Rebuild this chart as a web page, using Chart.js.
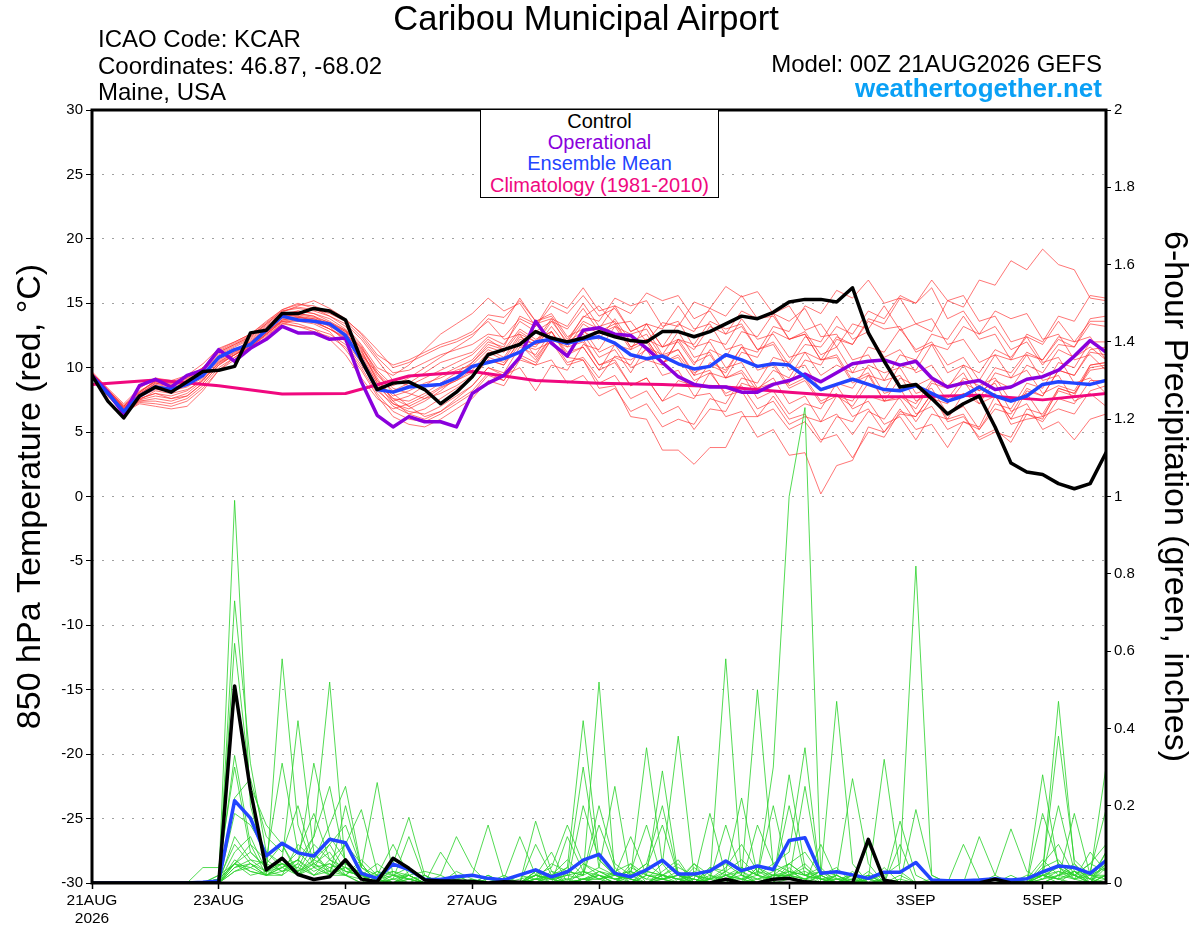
<!DOCTYPE html>
<html>
<head>
<meta charset="utf-8">
<script src="https://cdn.jsdelivr.net/npm/chart.js@4.4.1/dist/chart.umd.min.js"></script>
<style>
    body { margin: 0; background: #fff; }
    #wrap { position: relative; width: 1200px; height: 927px; font-family: "Liberation Sans", Arial, sans-serif; color: #000; }
    #wrap canvas { position: absolute; left: 0; top: 0; }
    .txt { position: absolute; white-space: nowrap; line-height: 1; }
    #legend { position: absolute; left: 480px; top: 109px; width: 237px; height: 87px; border: 1.5px solid #000; background: #fff; }
    #legend div { position: absolute; left: 0; width: 100%; text-align: center; font-size: 20px; line-height: 1; }
</style>
</head>
<body>
<div id="wrap">
    <canvas id="chart" width="1200" height="927"></canvas>
    <div class="txt" style="left:0;width:1172px;text-align:center;top:1px;font-size:34.5px;">Caribou Municipal Airport</div>
    <div class="txt" style="left:98px;top:27px;font-size:24px;">ICAO Code: KCAR</div>
    <div class="txt" style="left:98px;top:54px;font-size:24px;">Coordinates: 46.87, -68.02</div>
    <div class="txt" style="left:98px;top:80px;font-size:24px;">Maine, USA</div>
    <div class="txt" style="right:98px;top:52px;font-size:24px;">Model: 00Z 21AUG2026 GEFS</div>
    <div class="txt" style="right:98px;top:75px;font-size:26px;font-weight:bold;color:#0aa0f5;">weathertogether.net</div>
    <div id="legend">
        <div style="top:1px;color:#000;">Control</div>
        <div style="top:22px;color:#8a00dc;">Operational</div>
        <div style="top:43px;color:#2244ff;">Ensemble Mean</div>
        <div style="top:65px;color:#f0087f;">Climatology (1981-2010)</div>
    </div>
</div>
<script>
// forecast hours at 6-hour steps, 0..384 (index * 6)
const tickHours = [0, 48, 96, 144, 192, 264, 312, 360];
const tickLabels = ['21AUG', '23AUG', '25AUG', '27AUG', '29AUG', '1SEP', '3SEP', '5SEP'];
const yearLabel = '2026';

// 850 hPa temperature (C), 6-hourly
const controlTemp = [
    9.4, 7.4, 6.1, 7.8,  8.5, 8.1, 8.9, 9.7,  9.8, 10.1, 12.7, 12.9,  14.2, 14.2, 14.6, 14.4,
    13.7, 10.6, 8.3, 8.8,  8.9, 8.3, 7.2, 8.1,  9.3, 11.0, 11.4, 11.8,  12.8, 12.3, 12.0, 12.3,
    12.8, 12.4, 12.1, 12.0,  12.8, 12.8, 12.4, 12.8,  13.4, 14.0, 13.8, 14.3,  15.1, 15.3, 15.3, 15.1,
    16.2, 12.7, 10.5, 8.5,  8.7, 7.6, 6.4, 7.2,  7.8, 5.4, 2.6, 1.9,  1.7, 1.0, 0.6, 1.0,  3.4
];
const operationalTemp = [
    9.4, 8.1, 6.4, 8.6,  9.1, 8.5, 9.4, 9.8,  11.4, 10.5, 11.5, 12.2,  13.2, 12.7, 12.7, 12.2,
    12.3, 8.9, 6.3, 5.4,  6.2, 5.8, 5.8, 5.4,  8.0, 8.8, 9.4, 10.8,  13.6, 11.9, 10.9, 12.9,
    13.1, 12.6, 12.5, 11.5,  10.4, 9.3, 8.7, 8.5,  8.5, 8.1, 8.1, 8.7,  9.0, 9.5, 8.9, 9.6,
    10.3, 10.5, 10.6, 10.2,  10.5, 9.2, 8.5, 8.8,  9.0, 8.3, 8.5, 9.1,  9.3, 9.8, 10.9, 12.1,  11.2
];
const meanTemp = [
    9.3, 8.0, 6.6, 7.8,  8.5, 8.3, 8.7, 9.4,  10.8, 11.4, 11.8, 12.9,  14.0, 13.7, 13.6, 13.4,
    12.5, 10.6, 8.3, 8.1,  8.5, 8.6, 8.7, 9.2,  10.1, 10.4, 10.7, 11.2,  12.0, 12.2, 11.9, 12.2,
    12.4, 11.9, 11.0, 10.7,  10.9, 10.3, 9.9, 10.1,  11.0, 10.6, 10.1, 10.3,  10.2, 9.3, 8.3, 8.7,
    9.1, 8.7, 8.3, 8.2,  8.6, 8.0, 7.4, 7.8,  8.5, 7.8, 7.4, 7.8,  8.7, 8.9, 8.8, 8.7,  9.0
];
// climatology is daily (00Z each day)
const climoTemp = [8.7, 9.05, 8.6, 7.95, 8.0, 9.35, 9.7, 9.0, 8.8, 8.7, 8.5, 8.1, 7.75, 7.75, 7.85, 7.5, 8.0];

const memberTemp = [
    [9.6,8.3,7.1,8.2, 8.9,8.8,9.2,9.9, 11.2,11.8,12.4,13.3, 14.3,14.8,15.2,14.6, 13.8,12.6,11.0,10.2, 10.6,11.2,11.8,12.2,
     12.8,14.1,13.9,15.2, 13.6,14.0,12.2,13.9, 14.8,13.4,13.6,12.0, 13.5,13.2,15.1,14.6, 16.3,15.5,15.9,14.2, 14.8,12.9,13.4,11.6, 13.4,13.0,14.8,12.9, 13.4,12.8,15.2,14.7, 16.8,16.4,18.3,17.6, 19.2,18.0,17.6,15.4, 15.2],
    [9.4,7.9,6.6,7.5, 8.2,8.0,8.3,9.0, 10.4,11.0,11.6,12.6, 13.5,13.2,13.0,12.2, 11.0,9.2,7.6,6.8, 7.2,7.8,8.5,9.0,
     9.8,11.2,10.6,12.4, 11.8,12.2,10.4,10.8, 9.2,10.9,10.6,11.4, 9.4,9.8,7.8,8.0, 6.2,6.6,4.6,5.2, 3.2,3.4,0.2,2.4, 2.8,5.4,5.0,6.8, 5.2,5.6,3.8,5.8, 5.4,7.8,6.0,6.4, 5.8,7.6,7.2,9.0, 9.0],
    [9.5,8.1,6.9,7.8, 8.4,8.1,8.7,9.5, 10.9,11.4,12.1,13.0, 14.0,14.2,14.0,13.2, 12.0,10.4,8.2,7.2, 6.8,7.4,8.2,9.2,
     10.4,11.6,11.2,12.8, 12.0,12.8,10.8,10.6, 8.4,8.6,6.2,6.0, 3.6,3.6,2.5,3.8, 3.8,6.2,6.2,7.8, 6.0,6.4,4.4,4.8, 3.0,5.0,4.6,6.6, 6.2,8.0,6.0,6.4, 4.4,5.0,4.6,6.8, 6.4,8.4,8.0,10.0, 10.2],
    [9.7,8.4,7.2,8.4, 9.2,9.0,9.4,10.3, 11.5,12.0,12.6,13.6, 14.5,15.0,14.6,14.0, 13.2,11.8,10.0,9.4, 10.2,11.4,12.6,13.4,
     14.2,15.4,14.4,15.0, 13.2,15.2,14.6,16.2, 14.4,14.8,12.8,13.4, 11.6,12.0,10.2,12.2, 11.8,13.8,12.2,12.6, 10.8,11.2,9.4,10.2, 9.6,11.6,11.2,13.0, 11.4,12.0,10.2,10.8, 9.0,11.0,10.6,12.6, 12.0,14.0,13.6,15.6, 15.4],
    [9.3,7.8,6.5,7.2, 7.0,6.8,7.0,8.2, 9.8,10.6,11.4,12.4, 13.4,13.8,13.6,13.0, 12.4,11.0,9.6,8.0, 7.0,6.2,6.6,7.4,
     8.2,9.6,9.0,11.0, 10.4,12.2,11.8,12.6, 10.8,11.4,9.6,11.6, 11.0,12.8,10.8,11.2, 9.2,9.6,7.6,8.2, 6.4,7.2,6.8,8.8, 8.4,10.2,9.6,10.0, 8.0,8.4,6.4,7.0, 5.2,6.8,6.4,8.4, 7.8,9.8,9.4,11.2, 11.0],
    [9.5,8.0,6.8,7.9, 8.6,8.4,8.8,9.4, 10.6,11.2,11.8,12.8, 13.8,14.0,13.8,13.4, 12.8,11.6,9.4,8.2, 8.8,9.6,10.4,10.8,
     11.2,12.4,11.8,13.6, 12.8,13.6,12.0,12.8, 12.2,13.8,12.0,12.6, 10.8,11.4,9.6,10.2, 9.6,11.6,11.2,13.2, 12.8,14.8,14.2,16.0, 15.4,16.8,15.0,15.4, 13.4,13.8,11.8,12.2, 10.4,11.0,9.2,9.8, 8.0,8.6,8.2,10.2, 10.4],
    [9.4,8.0,6.7,7.6, 8.0,7.6,7.8,8.8, 10.2,11.0,11.8,12.8, 13.6,13.4,13.0,12.6, 11.8,10.2,8.4,7.0, 6.4,6.0,6.6,7.6,
     8.6,10.0,9.4,10.0, 8.2,10.2,9.8,11.8, 11.4,13.2,12.6,13.0, 11.0,11.4,9.4,9.8, 7.8,8.2,6.2,6.8, 5.2,5.8,4.2,6.2, 5.8,7.8,7.4,9.2, 8.6,9.2,7.4,8.0, 7.2,9.0,8.4,10.2, 9.6,11.4,10.8,11.6, 10.6],
    [9.6,8.2,6.9,7.9, 8.8,8.6,9.0,9.6, 10.8,11.4,12.0,13.0, 14.0,14.4,14.2,13.8, 13.0,11.4,9.0,7.6, 7.4,8.0,8.8,9.6,
     10.4,11.8,11.4,13.0, 12.2,12.8,11.0,11.6, 9.8,11.8,11.4,13.4, 13.0,14.8,13.0,13.4, 11.4,11.8,9.8,10.2, 8.4,9.0,7.2,7.8, 7.0,8.8,8.2,10.2, 9.8,11.8,11.4,13.2, 12.6,14.4,13.8,14.2, 12.2,12.6,10.6,11.0, 9.8],
    [9.5,8.1,6.8,8.0, 8.7,8.5,8.9,9.7, 11.0,11.6,12.2,13.1, 14.1,14.0,13.6,13.0, 12.2,10.6,8.6,7.4, 7.8,8.6,9.4,10.0,
     10.6,12.0,11.6,14.0, 13.4,13.8,11.8,12.2, 10.2,10.6,8.6,9.2, 7.4,8.0,7.6,9.6, 9.2,11.2,10.8,12.8, 12.2,12.8,11.0,11.6, 9.6,10.0,8.0,8.4, 6.4,7.0,5.2,5.8, 5.2,7.2,6.8,8.8, 8.4,10.4,10.0,12.0, 12.0],
    [9.4,7.9,6.6,7.4, 7.4,7.2,7.6,8.6, 10.0,10.8,11.6,12.6, 13.6,13.6,13.4,12.8, 11.4,9.8,7.8,6.2, 5.6,5.4,6.0,6.8,
     7.6,9.0,8.6,10.6, 10.2,12.2,11.6,13.4, 12.6,13.2,11.4,12.0, 10.2,12.2,11.8,13.6, 13.0,13.4,11.4,11.8, 9.8,10.2,8.2,8.6, 6.8,7.4,5.6,6.2, 4.4,6.4,6.0,8.0, 7.6,9.6,9.2,11.0, 10.6,12.2,11.6,13.4, 13.2],
    [9.6,8.3,7.0,8.1, 9.0,8.9,9.3,10.0, 11.3,11.9,12.5,13.4, 14.4,14.6,14.4,14.0, 13.4,12.2,10.6,9.0, 8.6,9.2,9.8,10.4,
     11.0,12.2,11.4,11.8, 10.6,12.4,12.0,14.0, 13.6,15.4,14.8,15.2, 13.2,13.6,11.6,12.0, 10.0,10.4,8.4,8.8, 8.8,10.6,10.2,12.2, 11.8,13.8,13.4,15.4, 15.0,16.8,15.2,15.6, 13.6,14.0,12.0,12.4, 10.4,10.8,8.8,9.2, 8.0],
    [9.5,8.0,6.7,7.7, 8.3,8.2,8.5,9.2, 10.5,11.1,11.8,12.7, 13.7,13.9,13.7,13.2, 12.6,11.2,9.0,7.8, 8.2,8.8,9.2,9.8,
     10.2,11.4,10.8,12.6, 12.0,13.8,13.2,15.0, 13.2,13.6,11.6,12.2, 10.4,10.8,9.0,9.6, 8.0,8.6,6.8,7.4, 5.6,6.2,5.8,7.8, 7.4,9.4,9.0,11.0, 10.6,12.6,12.2,14.0, 12.2,12.6,10.6,11.0, 9.0,9.4,7.4,8.0, 7.0],
    [9.4,7.8,6.5,7.3, 7.2,7.0,7.4,8.4, 9.8,10.8,11.6,12.5, 13.4,13.2,12.8,12.4, 11.6,10.0,8.0,6.6, 6.0,5.8,6.4,7.2,
     8.0,9.4,9.0,10.8, 10.2,10.6,8.8,9.4, 7.8,8.4,6.6,7.2, 5.4,6.0,5.6,7.6, 7.2,9.2,8.8,10.8, 10.4,12.4,12.0,14.0, 12.2,12.8,10.8,11.4, 9.6,10.2,8.4,9.0, 7.2,7.8,6.0,8.2, 7.8,9.8,9.4,11.4, 11.6],
    [9.5,8.2,6.9,8.0, 8.8,8.6,9.0,9.8, 11.1,11.7,12.3,13.2, 14.2,14.4,14.2,13.6, 12.9,11.5,9.8,8.6, 9.2,10.0,10.8,11.6,
     12.4,13.8,13.4,15.4, 13.6,14.2,12.4,13.0, 11.2,11.8,10.0,10.6, 10.2,12.2,11.4,13.2, 12.6,14.4,13.8,14.0, 12.2,12.6,10.6,10.8, 8.8,9.4,7.4,7.6, 5.8,7.6,7.2,8.8, 8.2,10.0,9.6,11.2, 10.6,12.4,12.0,13.6, 13.6],
    [9.3,7.8,6.5,7.4, 7.6,7.4,7.8,8.8, 10.2,11.0,11.7,12.7, 13.7,13.9,13.8,13.3, 12.7,11.3,9.2,7.4, 6.4,6.8,7.6,8.4,
     9.2,10.6,10.2,12.2, 11.8,13.6,13.0,14.6, 12.8,13.4,11.6,12.2, 10.4,11.0,9.4,11.4, 10.8,12.8,12.4,14.2, 13.6,14.6,12.4,12.6, 10.6,11.0,9.0,9.4, 7.4,8.0,5.8,6.2, 4.6,5.2,4.2,6.4, 6.0,8.4,8.0,9.8, 10.0],
    [9.6,8.3,7.0,8.1, 8.9,8.7,9.1,9.9, 11.2,11.8,12.4,13.4, 14.4,14.7,14.5,14.2, 13.6,12.4,10.8,9.6, 9.8,10.4,11.0,11.4,
     11.8,12.6,12.4,13.8, 13.2,14.8,14.2,15.6, 14.0,14.6,12.8,13.4, 11.6,12.2,10.4,11.0, 9.2,9.8,8.2,9.8, 9.2,11.2,10.6,12.4, 11.8,13.6,13.0,13.2, 11.2,11.8,9.6,10.2, 8.2,8.8,6.6,7.2, 5.2,5.8,4.4,6.0, 6.4],
    [9.4,7.9,6.7,7.5, 7.8,7.6,8.0,9.0, 10.4,11.2,11.9,12.9, 13.9,14.1,13.9,13.5, 12.8,11.0,8.8,7.6, 7.0,7.6,8.4,9.0,
     9.6,10.8,10.4,12.0, 11.6,13.2,11.6,12.0, 10.2,10.8,10.2,12.2, 11.6,13.4,12.8,14.6, 14.0,15.6,13.8,14.2, 12.2,12.6,10.6,11.0, 9.0,9.6,7.4,7.8, 6.8,8.8,8.4,10.2, 9.6,11.4,10.8,12.4, 11.8,13.6,12.0,12.4, 10.6],
    [9.5,8.1,6.8,7.8, 8.5,8.3,8.6,9.4, 10.7,11.3,12.0,12.9, 13.9,14.2,14.0,13.5, 12.9,11.7,9.6,8.4, 8.0,7.6,8.0,8.6,
     9.4,10.6,10.2,11.8, 11.4,12.0,10.2,10.6, 8.8,9.4,7.6,8.2, 6.4,7.0,5.2,6.8, 6.6,8.8,8.4,9.2, 7.2,7.8,5.8,6.4, 4.8,6.6,6.0,7.8, 7.2,9.0,8.6,9.6, 7.6,8.0,5.6,6.0, 6.2,8.2,7.8,10.2, 10.4],
    [9.6,8.2,7.0,8.1, 9.0,8.8,9.2,10.0, 11.4,12.0,12.6,13.5, 14.5,14.9,14.8,14.3, 13.7,12.7,11.4,10.0, 10.4,11.0,11.6,12.0,
     12.6,13.6,12.2,12.6, 10.8,12.4,12.0,13.6, 13.0,14.8,14.2,15.8, 15.2,15.6,13.8,14.4, 12.6,13.2,11.4,12.0, 10.2,11.8,11.6,13.2, 12.6,14.4,13.8,15.6, 15.0,16.2,13.8,14.4, 12.6,13.2,11.4,12.0, 10.2,11.8,11.6,13.8, 14.0],
    [9.4,7.9,6.6,7.6, 8.0,7.8,8.2,9.1, 10.3,11.0,11.7,12.6, 13.6,13.8,13.5,13.0, 12.3,10.8,8.8,7.2, 6.6,6.4,7.0,7.8,
     8.6,10.0,9.6,11.6, 11.0,12.8,11.2,11.6, 9.8,10.4,8.6,9.2, 7.4,9.0,8.6,10.4, 9.8,11.6,10.0,10.4, 8.6,9.2,7.4,8.0, 6.2,6.8,5.0,6.4, 6.2,8.0,7.6,9.2, 8.6,9.2,7.4,8.0, 6.2,6.8,6.4,8.2, 8.6]
];

// 6-hour precipitation (inches)
const controlPrecip = [
    0, 0, 0, 0,  0, 0, 0, 0,  0, 0.51, 0.24, 0.034,  0.064, 0.022, 0.009, 0.016,
    0.06, 0.01, 0.003, 0.064,  0.038, 0.008, 0.005, 0.005,  0.004, 0, 0.003, 0.002,  0, 0, 0, 0,
    0, 0, 0, 0,  0, 0, 0, 0,  0.01, 0, 0, 0.01,  0.012, 0.003, 0, 0,
    0, 0.113, 0.007, 0,  0, 0, 0, 0,  0, 0.01, 0, 0,  0, 0, 0, 0,  0
];
const meanPrecip = [
    0, 0, 0, 0,  0, 0, 0, 0.002,  0.005, 0.213, 0.168, 0.07,  0.103, 0.078, 0.07, 0.113,
    0.104, 0.025, 0.012, 0.049,  0.035, 0.009, 0.009, 0.016,  0.02, 0.012, 0.008, 0.021,  0.034, 0.016, 0.029, 0.059,
    0.074, 0.025, 0.016, 0.034,  0.059, 0.023, 0.023, 0.031,  0.057, 0.032, 0.044, 0.035,  0.11, 0.117, 0.025, 0.029,
    0.021, 0.012, 0.028, 0.028,  0.053, 0.008, 0.006, 0.006,  0.008, 0.011, 0.008, 0.011,  0.029, 0.044, 0.04, 0.025,  0.058
];
const memberPrecip = [
    [0,0,0,0, 0,0,0,0, 0.01,0.99,0.2,0.05, 0.03,0.06,0.02,0.04, 0.05,0.02,0,0.01, 0,0,0.01,0, 0,0,0,0.02, 0.01,0,0.03,0.02, 0.15,0.04,0,0.02, 0.01,0,0.03,0, 0,0.04,0.02,0.05, 0.08,0.35,0,0.02, 0,0.01,0,0, 0,0,0,0, 0,0,0.01,0, 0.03,0.47,0.05,0.01, 0.02],
    [0,0,0,0, 0,0,0,0, 0,0.73,0.31,0.08, 0.05,0.02,0.08,0.03, 0.02,0,0.01,0.03, 0.02,0,0,0, 0,0,0.01,0.12, 0.02,0.01,0,0.01, 0,0.03,0.05,0, 0.02,0.05,0,0.01, 0.15,0.02,0,0, 0.01,0,0.02,0.04, 0,0.03,0,0.16, 0.02,0,0,0, 0,0,0,0.01, 0.02,0,0.03,0.01, 0],
    [0,0,0,0, 0,0,0,0, 0.01,0.62,0.25,0.15, 0.1,0.03,0.05,0.02, 0.2,0.04,0.01,0, 0,0.02,0,0, 0,0.01,0,0, 0.03,0,0,0.05, 0.02,0,0.03,0.01, 0.05,0.38,0.02,0, 0.01,0,0.04,0.02, 0.02,0,0.1,0.01, 0,0.02,0,0, 0,0.01,0,0, 0,0,0,0, 0,0.02,0.01,0.08, 0.03],
    [0,0,0,0, 0,0,0,0, 0.02,0.33,0.1,0.06, 0.31,0.08,0.04,0.1, 0.03,0.02,0,0.01, 0.12,0.01,0,0.02, 0,0,0.02,0, 0.01,0.02,0.04,0, 0.03,0.01,0.02,0.35, 0.05,0,0.01,0, 0.02,0,0.01,0, 0.04,0,0.02,0, 0.01,0,0,0, 0,0,0,0.1, 0.01,0,0,0, 0.05,0.1,0.02,0, 0.06],
    [0,0,0,0, 0,0,0,0.04, 0.04,0.3,0.08,0.04, 0.05,0.03,0.1,0.06, 0.04,0.02,0,0, 0.02,0,0,0, 0.01,0,0,0, 0.16,0.03,0,0.01, 0.02,0,0.05,0.02, 0.01,0.02,0,0.04, 0.02,0.01,0,0, 0.28,0.04,0,0, 0.03,0,0.01,0, 0,0,0,0, 0,0,0.02,0, 0.02,0.04,0.01,0.03, 0.19],
    [0,0,0,0, 0,0,0,0, 0.01,0.22,0.27,0.12, 0.08,0.2,0.05,0.03, 0.1,0.05,0,0, 0.01,0,0.02,0, 0,0.02,0,0, 0.03,0.01,0.04,0.42, 0.06,0.02,0,0.03, 0.02,0,0.04,0.01, 0,0,0.15,0.05, 0.03,0.02,0,0.01, 0,0,0,0.02, 0,0,0,0, 0.12,0.02,0,0, 0.04,0.06,0.01,0, 0.04],
    [0,0,0,0, 0,0,0,0, 0,0.18,0.15,0.08, 0.04,0.06,0.12,0.25, 0.05,0.02,0.01,0, 0,0,0,0.03, 0.01,0,0,0, 0,0.02,0.06,0.02, 0.04,0.25,0.01,0, 0.03,0.06,0,0.02, 0.01,0.03,0,0.02, 0.05,0.08,0.02,0, 0.01,0,0,0.1, 0,0,0,0, 0,0,0,0.01, 0.06,0.02,0.03,0, 0.08],
    [0,0,0,0, 0,0,0,0, 0,0.12,0.06,0.05, 0.1,0.02,0.06,0.04, 0.02,0.05,0,0, 0,0,0.01,0, 0,0,0,0, 0.02,0,0.12,0.03, 0.01,0,0.02,0.05, 0.02,0.01,0,0.04, 0.03,0.22,0.02,0, 0.05,0.02,0.01,0.02, 0,0,0,0, 0,0,0,0, 0,0,0,0, 0.18,0.05,0.02,0, 0.02],
    [0,0,0,0, 0,0,0,0, 0.01,0.1,0.05,0.02, 0.58,0.15,0.04,0.05, 0.02,0,0.03,0, 0.01,0,0,0, 0,0,0,0, 0.01,0.02,0.01,0, 0.02,0.01,0,0.04, 0.15,0.02,0,0, 0.01,0.02,0,0.02, 0.02,0.01,0.03,0, 0,0.1,0.01,0, 0,0,0,0, 0,0,0,0, 0.01,0.03,0.02,0.05, 0.03],
    [0,0,0,0, 0,0,0,0, 0,0.08,0.12,0.03, 0.06,0.42,0.08,0.02, 0.04,0.01,0,0.02, 0,0,0,0, 0,0,0,0.01, 0.02,0.01,0,0.2, 0.06,0.02,0.01,0, 0.01,0,0.05,0.02, 0,0.04,0.02,0.3, 1.0,1.23,0.02,0, 0,0.01,0,0, 0,0,0,0, 0,0,0,0, 0.02,0.01,0,0, 0.01],
    [0,0,0,0, 0,0,0,0, 0.01,0.05,0.04,0.06, 0.03,0.05,0.31,0.12, 0.06,0.02,0.01,0, 0.02,0,0,0, 0,0,0.01,0, 0.1,0.02,0,0.03, 0.01,0.03,0,0.02, 0.29,0.02,0.01,0, 0.02,0,0.04,0.01, 0.03,0.01,0,0.02, 0,0,0.04,0, 0.19,0.02,0,0, 0,0,0,0, 0,0.02,0.04,0.01, 0.05],
    [0,0,0,0, 0,0,0,0, 0,0.05,0.1,0.02, 0.05,0.04,0.12,0.52, 0.04,0.03,0.01,0.05, 0.17,0.02,0,0, 0,0,0,0, 0.02,0.01,0.02,0.01, 0.03,0.02,0.01,0, 0.02,0.01,0.05,0, 0.02,0.01,0.03,0.02, 0.01,0.25,0.01,0, 0,0.02,0,0, 0,0,0,0, 0,0,0,0, 0.03,0.01,0.18,0.02, 0.04],
    [0,0,0,0, 0,0,0,0, 0,0.04,0.05,0.03, 0.02,0.1,0.06,0.15, 0.25,0.04,0.02,0, 0.03,0.01,0,0, 0,0.02,0,0, 0,0.03,0.02,0.3, 0.04,0.02,0.03,0.01, 0.01,0.02,0,0.03, 0.05,0.02,0.5,0.04, 0.02,0.05,0.01,0, 0.02,0,0,0, 0,0,0,0, 0,0,0,0.02, 0.02,0.2,0.03,0, 0.02],
    [0,0,0,0, 0,0,0,0, 0.02,0.05,0.03,0.02, 0.04,0.08,0.18,0.06, 0.1,0.19,0.03,0.01, 0.02,0,0,0, 0,0,0,0, 0.01,0,0.01,0.02, 0.2,0.05,0.02,0, 0.01,0.03,0,0.01, 0.04,0.1,0.03,0.01, 0.02,0.01,0.02,0.47, 0.05,0,0,0, 0,0,0,0, 0,0,0,0, 0.02,0.03,0.01,0.02, 0.3],
    [0,0,0,0, 0,0,0,0, 0.01,0.05,0.08,0.04, 0.05,0.03,0.06,0.1, 0.15,0.04,0.26,0.02, 0.01,0,0,0, 0,0,0,0, 0.02,0.01,0,0.01, 0.01,0.02,0.12,0.02, 0.02,0.01,0.02,0, 0.03,0.01,0.02,0.2, 0.02,0.04,0.01,0, 0.02,0,0,0, 0,0,0,0, 0,0.02,0.14,0.03, 0.01,0.02,0.05,0, 0.02],
    [0,0,0,0, 0,0,0,0, 0,0.03,0.04,0.02, 0.04,0.02,0.05,0.08, 0.02,0.06,0.02,0.1, 0.02,0,0,0.01, 0,0,0,0, 0.01,0.05,0.03,0.02, 0.52,0.02,0.01,0, 0.02,0.01,0,0.01, 0.03,0.06,0.02,0.01, 0.2,0.02,0.04,0, 0,0,0.01,0, 0,0,0,0, 0,0,0,0, 0.03,0.38,0.06,0.02, 0.01],
    [0,0,0,0, 0,0,0,0, 0,0.06,0.03,0.02, 0.02,0.05,0.02,0.03, 0.04,0.01,0.03,0.02, 0.01,0,0.08,0.02, 0,0,0,0, 0.02,0.08,0,0.01, 0.01,0.02,0.03,0.15, 0.01,0,0.02,0.01, 0.02,0.03,0.01,0.02, 0.02,0.01,0.03,0.02, 0.27,0.05,0,0.01, 0,0,0,0, 0,0,0,0.01, 0.02,0.01,0.02,0, 0.05],
    [0,0,0,0, 0,0,0,0, 0,0.04,0.06,0.03, 0.04,0.06,0.03,0.05, 0.03,0.02,0.05,0.02, 0.02,0.03,0.02,0.12, 0.04,0,0,0, 0.01,0.01,0.02,0.03, 0.02,0.01,0.02,0.05, 0.2,0.02,0.01,0, 0.01,0.01,0,0.02, 0.03,0.02,0.01,0.01, 0.02,0.01,0.32,0.03, 0,0,0,0, 0,0,0,0, 0.01,0.05,0.02,0.01, 0.08],
    [0,0,0,0, 0,0,0,0, 0,0.05,0.02,0.03, 0.05,0.02,0.04,0.02, 0.02,0.01,0.02,0.03, 0.01,0.02,0,0.01, 0.02,0.15,0.01,0, 0.03,0.02,0,0.01, 0.02,0,0.04,0.02, 0.01,0.02,0.01,0.18, 0.02,0.04,0.02,0.01, 0.02,0.03,0.01,0, 0,0.01,0.02,0.05, 0.82,0.02,0,0, 0,0,0,0, 0.02,0.01,0.03,0.02, 0.02],
    [0,0,0,0, 0,0,0,0, 0,0.03,0.05,0.02, 0.03,0.04,0.02,0.06, 0.03,0.02,0.01,0.02, 0.04,0.01,0,0, 0,0.01,0,0, 0.02,0.04,0.15,0.05, 0.03,0.01,0.02,0.03, 0.02,0.04,0.02,0.01, 0.58,0.02,0.01,0.03, 0.05,0.02,0.03,0.01, 0.01,0.02,0,0, 0,0,0,0, 0,0,0,0, 0.28,0.04,0.02,0.05, 0.1]
];

const FONT = '"Liberation Sans", Arial, sans-serif';

function toPoints(values, stepHours) {
    return values.map((v, i) => ({ x: i * stepHours, y: v }));
}

function lineSet(values, step, color, width, axis, order) {
    return {
        data: toPoints(values, step),
        borderColor: color,
        borderWidth: width,
        yAxisID: axis,
        order: order,
        pointRadius: 0,
        tension: 0,
        fill: false,
        borderJoinStyle: 'round',
        borderCapStyle: 'round',
    };
}

const datasets = [];
memberTemp.forEach(m => datasets.push(lineSet(m, 6, 'rgba(255, 45, 45, 0.65)', 1, 'y', 6)));
memberPrecip.forEach(m => datasets.push(lineSet(m, 6, 'rgba(40, 210, 40, 0.8)', 1, 'y2', 5)));
datasets.push(lineSet(climoTemp, 24, '#f0087f', 3, 'y', 4));
datasets.push(lineSet(operationalTemp, 6, '#8a00dc', 3.5, 'y', 3));
datasets.push(lineSet(meanTemp, 6, '#2244ff', 3.5, 'y', 2));
datasets.push(lineSet(meanPrecip, 6, '#2244ff', 3.5, 'y2', 2));
datasets.push(lineSet(controlTemp, 6, '#000000', 3.5, 'y', 1));
datasets.push(lineSet(controlPrecip, 6, '#000000', 3.5, 'y2', 1));

// heavy frame round the plot area
const framePlugin = {
    id: 'frame',
    afterDraw(chart) {
        const { ctx, chartArea: a } = chart;
        ctx.save();
        ctx.strokeStyle = '#000';
        ctx.lineWidth = 3;
        ctx.strokeRect(a.left, a.top, a.right - a.left, a.bottom - a.top);
        ctx.restore();
    }
};

const tickFont = { family: FONT, size: 15 };

new Chart(document.getElementById('chart').getContext('2d'), {
    type: 'line',
    data: { datasets: datasets },
    plugins: [framePlugin],
    options: {
        responsive: false,
        animation: false,
        devicePixelRatio: 1,
        layout: { padding: { top: 110, left: 0, right: 0, bottom: 0 } },
        plugins: { legend: { display: false }, tooltip: { enabled: false } },
        scales: {
            x: {
                type: 'linear',
                min: 0,
                max: 384,
                afterBuildTicks: s => { s.ticks = tickHours.map(v => ({ value: v })); },
                afterFit: s => { s.height = 44; },
                ticks: {
                    autoSkip: false,
                    maxRotation: 0,
                    font: { family: FONT, size: 15.5 },
                    color: '#000',
                    padding: 2,
                    callback: v => {
                        const k = tickHours.indexOf(v);
                        return k === 0 ? [tickLabels[0], yearLabel] : tickLabels[k];
                    },
                },
                grid: { drawOnChartArea: false, tickLength: 6, tickColor: '#000', tickWidth: 1.5 },
                border: { display: false },
            },
            y: {
                position: 'left',
                min: -30,
                max: 30,
                afterFit: s => { s.width = 92; },
                ticks: { stepSize: 5, font: tickFont, color: '#000', padding: 3 },
                grid: { color: '#a0a0a0', lineWidth: 1, tickLength: 6, tickColor: '#000', tickBorderDash: [] },
                border: { display: false, dash: [2, 8] },
                title: {
                    display: true,
                    text: '850 hPa Temperature (red, °C)',
                    font: { family: FONT, size: 34 },
                    color: '#000',
                    padding: { top: 10, bottom: 0 },
                },
            },
            y2: {
                position: 'right',
                min: 0,
                max: 2,
                afterFit: s => { s.width = 94; },
                ticks: {
                    stepSize: 0.2,
                    font: tickFont,
                    color: '#000',
                    padding: 3,
                    callback: v => String(Math.round(v * 10) / 10),
                },
                grid: { drawOnChartArea: false, tickLength: 5, tickColor: '#000' },
                border: { display: false },
                title: {
                    display: true,
                    text: '6-hour Precipitation (green, inches)',
                    font: { family: FONT, size: 34 },
                    color: '#000',
                    padding: { top: 5, bottom: 0 },
                },
            },
        },
    },
});
</script>
</body>
</html>
